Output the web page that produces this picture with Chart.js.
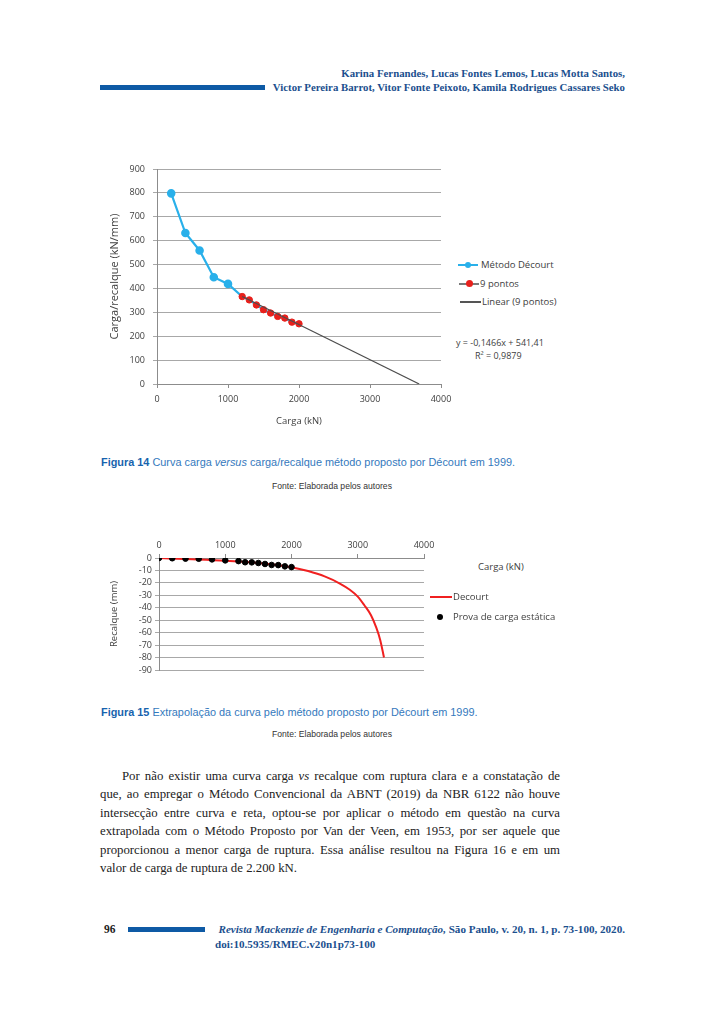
<!DOCTYPE html>
<html>
<head>
<meta charset="utf-8">
<script src="https://cdn.jsdelivr.net/npm/chart.js@4.4.0/dist/chart.umd.min.js"></script>
<style>
  html, body { margin: 0; padding: 0; background: #fff; }
  body { width: 724px; height: 1024px; position: relative; overflow: hidden; }
  .abs { position: absolute; white-space: nowrap; }
  .hdr { right: 99px; font: bold 10.8px "Liberation Serif", serif; color: #1b4f8e; line-height: 14px; text-align: right; }
  .bar { position: absolute; background: #0e5aa5; }
  .cap { left: 101px; font: 10.9px "Liberation Sans", Arial, sans-serif; color: #3479bd; line-height: 14px; }
  .cap b { color: #1763ae; }
  .src { font: 8.6px "Liberation Sans", Arial, sans-serif; color: #333; line-height: 10px; width: 160px; text-align: center; left: 252px; }
  .leg { font: 9.5px "Open Sans", sans-serif; color: #404040; line-height: 12px; }
  .ln { position: absolute; height: 2px; }
  .dot { position: absolute; border-radius: 50%; }
  .body { left: 100px; width: 460px; font: 12.8px "Liberation Serif", serif; color: #222; }
  .body div { height: 18.4px; line-height: 18.4px; text-align: justify; text-align-last: justify; white-space: nowrap; }
  .ft { font: bold 11.1px "Liberation Serif", serif; color: #1b4f8e; line-height: 14px; }
</style>
</head>
<body>

<div class="abs hdr" style="top:66px">Karina Fernandes, Lucas Fontes Lemos, Lucas Motta Santos,</div>
<div class="abs hdr" style="top:80px">Victor Pereira Barrot, Vitor Fonte Peixoto, Kamila Rodrigues Cassares Seko</div>
<div class="bar" style="left:100px; top:85px; width:165px; height:5px"></div>

<!-- Figure 14 -->
<div class="abs" style="left:100px; top:150px; width:352px; height:285px"><canvas id="fig14"></canvas></div>
<div class="ln" style="left:458px; top:264px; width:20px; background:#29b0ea"></div>
<div class="dot" style="left:465px; top:262px; width:6px; height:6px; background:#29b0ea"></div>
<div class="abs leg" style="left:481px; top:259px">Método Décourt</div>
<div class="ln" style="left:459px; top:283px; width:20px; height:1.5px; background:#7a7a7a"></div>
<div class="dot" style="left:466px; top:280px; width:7px; height:7px; background:#e8201c"></div>
<div class="abs leg" style="left:480px; top:278px">9 pontos</div>
<div class="ln" style="left:460px; top:301px; width:21px; height:1.5px; background:#555"></div>
<div class="abs leg" style="left:482px; top:296px">Linear (9 pontos)</div>
<div class="abs leg" style="left:456px; top:337px; font-size:9px">y = -0,1466x + 541,41</div>
<div class="abs leg" style="left:475px; top:350px; font-size:9px">R² = 0,9879</div>

<div class="abs cap" style="top:455px"><b>Figura 14</b> Curva carga <i>versus</i> carga/recalque método proposto por Décourt em 1999.</div>
<div class="abs src" style="top:481px">Fonte: Elaborada pelos autores</div>

<!-- Figure 15 -->
<div class="abs" style="left:100px; top:528px; width:336px; height:152px"><canvas id="fig15"></canvas></div>
<div class="abs leg" style="left:478px; top:561px">Carga (kN)</div>
<div class="ln" style="left:430px; top:596px; width:22px; background:#f02020"></div>
<div class="abs leg" style="left:453px; top:591px">Decourt</div>
<div class="dot" style="left:437px; top:614px; width:6px; height:6px; background:#000"></div>
<div class="abs leg" style="left:453px; top:611px">Prova de carga estática</div>

<div class="abs cap" style="top:705px"><b>Figura 15</b> Extrapolação da curva pelo método proposto por Décourt em 1999.</div>
<div class="abs src" style="top:729px">Fonte: Elaborada pelos autores</div>

<div class="abs body" style="top:767px">
  <div style="padding-left:22px">Por não existir uma curva carga <i>vs</i> recalque com ruptura clara e a constatação de</div>
  <div>que, ao empregar o Método Convencional da ABNT (2019) da NBR 6122 não houve</div>
  <div>intersecção entre curva e reta, optou-se por aplicar o método em questão na curva</div>
  <div>extrapolada com o Método Proposto por Van der Veen, em 1953, por ser aquele que</div>
  <div>proporcionou a menor carga de ruptura. Essa análise resultou na Figura 16 e em um</div>
  <div style="text-align:left; text-align-last:left">valor de carga de ruptura de 2.200 kN.</div>
</div>

<div class="abs" style="left:104px; top:922px; font:bold 11.5px 'Liberation Serif', serif; color:#222; line-height:14px">96</div>
<div class="bar" style="left:128px; top:927px; width:77px; height:5px"></div>
<div class="abs ft" style="right:99px; top:922px; text-align:right"><i>Revista Mackenzie de Engenharia e Computação,</i> São Paulo, v. 20, n. 1, p. 73-100, 2020.</div>
<div class="abs ft" style="left:215px; top:937px">doi:10.5935/RMEC.v20n1p73-100</div>

<script>
// Figura 14 - carga x carga/recalque
const decourtCarga = [200, 400, 600, 800, 1000, 1200, 1300, 1400, 1500, 1600, 1700, 1800, 1900, 2000];
const decourtRazao = [798, 632, 559, 447, 419, 366, 352, 331, 311, 297, 283, 276, 259, 252];
const pontosCarga = [1200, 1300, 1400, 1500, 1600, 1700, 1800, 1900, 2000];
const pontosRazao = [366, 352, 331, 311, 297, 283, 276, 259, 252];
const linearCarga = [1200, 3693];
const linearRazao = [366, 0];

// Figura 15 - extrapolação
const curvaCarga = [0, 500, 1000, 1500, 2000, 2250, 2500, 2730, 2880, 3000, 3100, 3200, 3280, 3340, 3396];
const curvaRecalque = [0, -1, -2.2, -4, -7.4, -10.5, -14.8, -20.5, -25.5, -31, -38, -46, -56, -66, -80];
const provaCarga = [0, 200, 400, 600, 800, 1000, 1200, 1300, 1400, 1500, 1600, 1700, 1800, 1900, 2000];
const provaRecalque = [0, -0.2, -0.5, -0.6, -1.1, -1.9, -2.5, -3.4, -3.5, -4, -4.8, -5.6, -5.7, -6.7, -7.3];

const toXY = (xs, ys) => xs.map((x, i) => ({ x, y: ys[i] }));
const tickFont = { family: 'Open Sans', size: 9 };
const tickColor = '#404040';
const gridColor = '#a8a8a8';

new Chart(document.getElementById('fig14'), {
  type: 'scatter',
  data: {
    datasets: [
      {
        label: 'Linear (9 pontos)',
        data: toXY(linearCarga, linearRazao),
        showLine: true, borderColor: '#4d4d4d', borderWidth: 1.2, pointRadius: 0, order: 0
      },
      {
        label: '9 pontos',
        data: toXY(pontosCarga, pontosRazao),
        showLine: false, backgroundColor: '#e8201c', borderColor: '#e8201c', pointRadius: 3.2, order: 1
      },
      {
        label: 'Método Décourt',
        data: toXY(decourtCarga, decourtRazao),
        showLine: true, borderColor: '#29b0ea', backgroundColor: '#29b0ea', borderWidth: 2.2,
        pointRadius: decourtCarga.map(c => c <= 1000 ? 3.2 : 0), order: 2
      }
    ]
  },
  options: {
    responsive: true, maintainAspectRatio: false, animation: false,
    layout: { padding: { top: 19, right: 11, left: 0, bottom: 0 } },
    plugins: { legend: { display: false }, tooltip: { enabled: false } },
    scales: {
      x: {
        min: 0, max: 4000,
        ticks: { stepSize: 1000, font: tickFont, color: tickColor, padding: 6, maxRotation: 0, autoSkip: false, callback: v => v },
        grid: { drawOnChartArea: false, color: '#8c8c8c', tickLength: 4 },
        border: { color: '#8c8c8c' },
        title: { display: true, text: 'Carga (kN)', font: { family: 'Open Sans', size: 9.5 }, color: '#404040', padding: { top: 4, bottom: 8 } },
        afterFit: s => { s.height = 51; s.paddingLeft = 0; s.paddingRight = 0; }
      },
      y: {
        min: 0, max: 900,
        ticks: { stepSize: 100, font: tickFont, color: tickColor, padding: 8, autoSkip: false },
        grid: { color: gridColor, tickLength: 4, lineWidth: 1 },
        border: { color: '#8c8c8c' },
        title: { display: true, text: 'Carga/recalque (kN/mm)', font: { family: 'Open Sans', size: 11 }, color: '#404040', padding: { top: 8, bottom: 4 } },
        afterFit: s => { s.width = 57; s.paddingTop = 0; s.paddingBottom = 0; }
      }
    }
  }
});

new Chart(document.getElementById('fig15'), {
  type: 'scatter',
  data: {
    datasets: [
      {
        label: 'Prova de carga estática',
        data: toXY(provaCarga, provaRecalque),
        showLine: false, backgroundColor: '#000', borderColor: '#000', pointRadius: 2.8, order: 0
      },
      {
        label: 'Decourt',
        data: toXY(curvaCarga, curvaRecalque),
        showLine: true, borderColor: '#f02020', borderWidth: 2, pointRadius: 0,
        cubicInterpolationMode: 'monotone', order: 1
      }
    ]
  },
  options: {
    responsive: true, maintainAspectRatio: false, animation: false,
    layout: { padding: { top: 0, right: 12, left: 0, bottom: 10 } },
    plugins: { legend: { display: false }, tooltip: { enabled: false } },
    scales: {
      x: {
        position: 'top', min: 0, max: 4000,
        ticks: { stepSize: 1000, font: tickFont, color: tickColor, padding: 3, maxRotation: 0, autoSkip: false, callback: v => v },
        grid: { drawOnChartArea: false, color: '#8c8c8c', tickLength: 4 },
        border: { color: '#8c8c8c' },
        afterFit: s => { s.height = 30; s.paddingLeft = 0; s.paddingRight = 0; }
      },
      y: {
        min: -90, max: 0,
        ticks: { stepSize: 10, font: tickFont, color: tickColor, padding: 3, autoSkip: false },
        grid: { color: gridColor, tickLength: 4, lineWidth: 1 },
        border: { color: '#8c8c8c' },
        title: { display: true, text: 'Recalque (mm)', font: { family: 'Open Sans', size: 9.5 }, color: '#404040', padding: { top: 9, bottom: 4 } },
        afterFit: s => { s.width = 59; s.paddingTop = 0; s.paddingBottom = 0; }
      }
    }
  }
});
</script>
</body>
</html>
